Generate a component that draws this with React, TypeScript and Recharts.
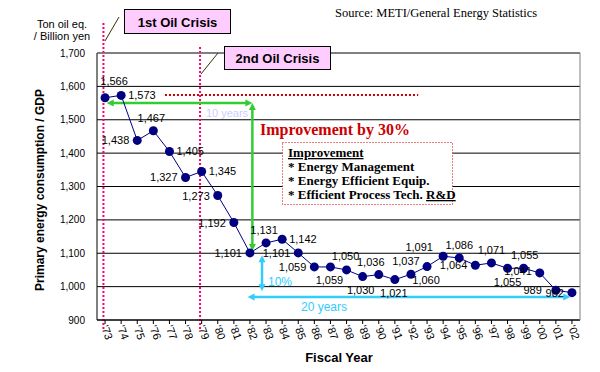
import React from 'react';
import { LineChart, Line, XAxis, YAxis, CartesianGrid, ReferenceLine } from 'recharts';

const years = ["'73", "'74", "'75", "'76", "'77", "'78", "'79", "'80", "'81", "'82", "'83", "'84", "'85", "'86", "'87", "'88", "'89", "'90", "'91", "'92", "'93", "'94", "'95", "'96", "'97", "'98", "'99", "'00", "'01", "'02"];
const intensity = [1566, 1573, 1438, 1467, 1405, 1327, 1345, 1273, 1192, 1101, 1131, 1142, 1101, 1059, 1059, 1050, 1030, 1036, 1021, 1037, 1060, 1091, 1086, 1064, 1071, 1055, 1055, 1041, 989, 982];
const yTicks = [900, 1000, 1100, 1200, 1300, 1400, 1500, 1600, 1700];
const xTicks = years.map((_, i) => i);

// label placement (style only)
const labelSide = ['T', 'R', 'L', 'T', 'R', 'L', 'R', 'L', 'L', 'L', 'T', 'R', 'L', 'L', 'B', 'T', 'B', 'T', 'B', 'T', 'B', 'T', 'T', 'L', 'T', 'B', 'T', 'L', 'L', 'L'];
const labelNudge: [number, number][] = [
  [9, -4], [0, 0], [0, 0], [-2, 0], [0, 0], [0, 0], [0, 0], [0, 0], [0, 0], [0, 0],
  [-2, 0], [0, 0], [0, 0], [0, 0], [-1, 0], [-1, -1], [-2, 0], [-8, 0], [-1, 0], [-5, 0],
  [-1, 0], [-24, 4], [0, 0], [0, 0], [0, 0], [0, 1], [1, 0], [0, -2], [-6, 0], [0, 0],
];

const data = years.map((y, i) => ({ i, year: y, v: intensity[i] }));

const SANS = "Arial, 'Liberation Sans', sans-serif";
const SERIF = "'Times New Roman', 'Liberation Serif', serif";
const fmt = (v: number) => v.toLocaleString('en-US');

const arrowShape = (color: string, width: number) => (props: any) => {
  const { x1, y1, x2, y2 } = props;
  const dx = x2 - x1, dy = y2 - y1;
  const len = Math.hypot(dx, dy) || 1;
  const ux = dx / len, uy = dy / len;
  const L = 7, H = 3.5;
  const head = (px: number, py: number, ax: number, ay: number) =>
    `${px},${py} ${px - ax * L - ay * H},${py - ay * L + ax * H} ${px - ax * L + ay * H},${py - ay * L - ax * H}`;
  return (
    <g>
      <line x1={x1 + ux * 4} y1={y1 + uy * 4} x2={x2 - ux * 4} y2={y2 - uy * 4} stroke={color} strokeWidth={width} />
      <polygon points={head(x2, y2, ux, uy)} fill={color} />
      <polygon points={head(x1, y1, -ux, -uy)} fill={color} />
    </g>
  );
};

const XTick = (props: any) => {
  const { x, y, payload } = props;
  const tx = x - 4;
  const ty = y + 1;
  return (
    <text x={tx} y={ty} transform={`rotate(70 ${tx} ${ty})`} textAnchor="start" fontSize={11} fontFamily={SANS} fill="#000">
      {years[payload.value]}
    </text>
  );
};

const renderDot = (p: any) => {
  const { cx, cy, index } = p;
  const side = labelSide[index];
  const [ndx, ndy] = labelNudge[index];
  let tx = cx, ty = cy;
  let anchor: 'start' | 'middle' | 'end' = 'middle';
  if (side === 'L') { tx = cx - 8; ty = cy + 4; anchor = 'end'; }
  else if (side === 'R') { tx = cx + 7; ty = cy + 4; anchor = 'start'; }
  else if (side === 'T') { ty = cy - 9; }
  else { ty = cy + 17; }
  return (
    <g key={`pt-${index}`}>
      <text x={tx + ndx} y={ty + ndy} textAnchor={anchor} fontSize={11} fontFamily={SANS} fill="#000">
        {fmt(intensity[index])}
      </text>
      <circle cx={cx} cy={cy} r={4.5} fill="#000080" />
    </g>
  );
};

export default function App() {
  return (
    <div style={{ position: 'absolute', left: 0, top: 0, width: 600, height: 372, background: '#fff' }}>
      <LineChart width={600} height={372} data={data} margin={{ top: 53, right: 20, bottom: 0, left: 0 }}>
        <CartesianGrid vertical={false} stroke="#000" strokeOpacity={1} />
        <XAxis
          type="number"
          dataKey="i"
          domain={[-0.5, 29.5]}
          ticks={xTicks}
          interval={0}
          height={52}
          tickSize={4}
          tickMargin={2}
          axisLine={{ stroke: '#000' }}
          tickLine={{ stroke: '#000' }}
          tick={<XTick />}
        />
        <YAxis
          type="number"
          domain={[900, 1700]}
          ticks={yTicks}
          width={97}
          tickLine={false}
          tickSize={0}
          tickMargin={12}
          axisLine={{ stroke: '#000' }}
          tick={{ fill: '#000', fontSize: 10, fontFamily: SANS }}
          tickFormatter={fmt}
        />
        <ReferenceLine ifOverflow="visible" segment={[{ x: -0.1, y: 1790 }, { x: -0.1, y: 870 }]} stroke="#FF0066" strokeWidth={2} strokeDasharray="2 2" />
        <ReferenceLine ifOverflow="visible" segment={[{ x: 5.9, y: 1718 }, { x: 5.9, y: 870 }]} stroke="#FF0066" strokeWidth={2} strokeDasharray="2 2" />
        <ReferenceLine ifOverflow="visible" segment={[{ x: 3.72, y: 1574 }, { x: 19.45, y: 1574 }]} stroke="#CC0000" strokeWidth={2} strokeDasharray="2 2" />
        <ReferenceLine ifOverflow="visible" segment={[{ x: 0.1, y: 1550 }, { x: 9.15, y: 1550 }]} shape={arrowShape('#33CC33', 2.5)} />
        <ReferenceLine ifOverflow="visible" segment={[{ x: 9.15, y: 1550 }, { x: 9.15, y: 1107 }]} shape={arrowShape('#33CC33', 2.5)} />
        <ReferenceLine ifOverflow="visible" segment={[{ x: 9.75, y: 1094 }, { x: 9.75, y: 986 }]} shape={arrowShape('#33CCFF', 2.5)} />
        <ReferenceLine ifOverflow="visible" segment={[{ x: 8.85, y: 969 }, { x: 28.9, y: 969 }]} shape={arrowShape('#33CCFF', 2.5)} />
        <Line
          type="linear"
          dataKey="v"
          stroke="#000080"
          strokeWidth={1}
          dot={renderDot}
          activeDot={false}
          isAnimationActive={false}
        />
      </LineChart>
      <svg width={600} height={372} style={{ position: 'absolute', left: 0, top: 0, pointerEvents: 'none' }}>
        <line x1={97} y1={53} x2={580} y2={53} stroke="#808080" strokeWidth={1} />
        <line x1={580} y1={53} x2={580} y2={320} stroke="#808080" strokeWidth={1} />
        <text x={335} y={17} fontFamily={SERIF} fontSize={12.5} fill="#000">Source: METI/General Energy Statistics</text>
        <text x={62} y={28} textAnchor="middle" fontFamily={SANS} fontSize={11} fill="#000">Ton oil eq.</text>
        <text x={62} y={40} textAnchor="middle" fontFamily={SANS} fontSize={11} fill="#000">/ Billion yen</text>
        <line x1={119} y1={17} x2={105} y2={41} stroke="#333300" strokeWidth={1} />
        <line x1={218} y1={53} x2={201} y2={74} stroke="#333300" strokeWidth={1} />
        <rect x={124.5} y={9.5} width={106} height={24} fill="#FFCCFF" stroke="#000" strokeWidth={1} />
        <text x={177.5} y={27} textAnchor="middle" fontFamily={SANS} fontWeight="bold" fontSize={13} fill="#000">1st Oil Crisis</text>
        <rect x={224.5} y={46.5} width={106} height={23} fill="#FFCCFF" stroke="#000" strokeWidth={1} />
        <text x={277.5} y={63} textAnchor="middle" fontFamily={SANS} fontWeight="bold" fontSize={13} fill="#000">2nd Oil Crisis</text>
        <text x={44} y={190} transform="rotate(-90 44 190)" textAnchor="middle" fontFamily={SANS} fontWeight="bold" fontSize={12} fill="#000">Primary energy consumption / GDP</text>
        <text x={339} y={362} textAnchor="middle" fontFamily={SANS} fontWeight="bold" fontSize={13} fill="#000">Fiscal Year</text>
        <text x={227} y={117} textAnchor="middle" fontFamily={SANS} fontSize={11} fill="#CCCCFF">10 years</text>
        <text x={260} y={135} fontFamily={SERIF} fontWeight="bold" fontSize={16} fill="#CC0000">Improvement by 30%</text>
        <rect x={282.5} y={142.5} width={170} height={62} fill="#fff" stroke="#CC0000" strokeWidth={1} strokeDasharray="1 2" />
        <text x={288} y={157} fontFamily={SERIF} fontWeight="bold" fontSize={13} fill="#000" textDecoration="underline">Improvement</text>
        <text x={288} y={171} fontFamily={SERIF} fontWeight="bold" fontSize={13} fill="#000">* Energy Management</text>
        <text x={288} y={185} fontFamily={SERIF} fontWeight="bold" fontSize={13} fill="#000">* Energy Efficient Equip.</text>
        <text x={288} y={199} fontFamily={SERIF} fontWeight="bold" fontSize={13} fill="#000">
          * Efficient Process Tech. <tspan textDecoration="underline">R&amp;D</tspan>
        </text>
        <text x={268} y={286} fontFamily={SANS} fontSize={12} fill="#33CCFF">10%</text>
        <text x={324} y={311} textAnchor="middle" fontFamily={SANS} fontSize={12} fill="#33CCFF">20 years</text>
      </svg>
    </div>
  );
}
